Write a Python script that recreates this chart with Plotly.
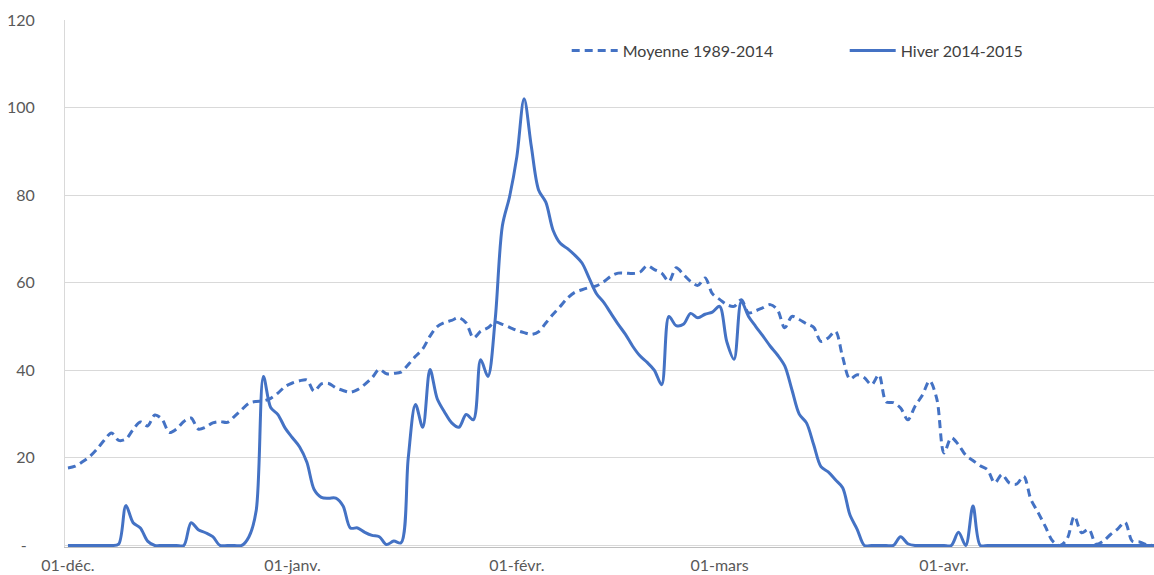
import pandas as pd
import plotly.graph_objects as go

dates = pd.date_range("2014-12-01", "2015-04-30", freq="D")

moyenne = [
    17.7, 18.1, 19.1, 20.3, 22.0, 24.0, 25.7, 24.0, 24.3, 26.5,
    28.2, 27.3, 29.8, 28.8, 25.8, 26.6, 28.3, 29.1, 26.6, 27.0,
    28.0, 28.3, 28.1, 29.5, 31.0, 32.5, 32.9, 33.0, 33.6, 34.8,
    36.3, 37.1, 37.6, 37.8, 35.2, 36.9, 37.0, 36.0, 35.4, 35.0,
    35.6, 36.8, 38.3, 40.2, 39.2, 39.3, 39.6, 41.3, 43.2, 44.9,
    47.8, 50.0, 50.9, 51.4, 52.0, 50.8, 47.4, 48.9, 49.7, 51.0,
    50.5, 49.8, 49.1, 48.6, 48.2, 48.8, 50.8, 52.8, 54.6, 56.5,
    57.8, 58.4, 58.9, 59.3, 60.2, 61.5, 62.2, 62.2, 62.1, 62.4,
    63.9, 63.0, 62.2, 60.3, 63.4, 61.9, 60.3, 59.4, 61.1, 57.5,
    56.2, 55.0, 54.6, 56.1, 53.1, 53.6, 54.3, 55.0, 53.8, 49.7,
    52.3, 51.6, 50.6, 49.8, 46.6, 47.4, 48.9, 43.0, 38.0, 39.0,
    38.3, 36.7, 39.0, 32.8, 32.6, 31.4, 28.7, 31.8, 34.3, 37.6,
    33.5, 21.1, 24.6, 23.0, 20.6, 19.4, 18.2, 17.3, 14.3, 16.2,
    14.3, 14.0, 15.8, 10.5, 7.5, 4.3, 1.0, 0.0, 1.5, 6.7,
    2.9, 3.7, 0.3, 1.0, 2.5, 3.8, 5.3, 1.0, 0.8, 0.2,
    0.0,
]

hiver = [
    0.0, 0.0, 0.0, 0.0, 0.0, 0.0, 0.0, 0.3, 9.1, 5.2,
    4.0, 1.0, 0.0, 0.0, 0.0, 0.0, 0.0, 5.2, 3.6, 2.9,
    2.0, 0.0, 0.0, 0.0, 0.0, 2.0, 8.0, 38.6, 31.5, 29.9,
    26.8, 24.6, 22.5, 19.0, 12.8, 11.0, 10.8, 10.8, 9.0, 4.0,
    4.0, 3.0, 2.3, 2.0, 0.2, 1.0, 0.6, 20.0, 32.2, 27.0,
    40.2, 33.5, 30.5, 28.0, 27.0, 29.9, 28.7, 42.4, 38.6, 51.5,
    73.0, 79.7, 88.8, 102.0, 91.1, 81.2, 78.4, 72.0, 69.0, 67.8,
    66.3, 64.5, 61.0, 57.5, 55.5, 53.0, 50.5, 48.2, 45.5, 43.3,
    41.8, 40.0, 36.7, 52.3, 50.2, 50.5, 53.0, 52.0, 52.8, 53.3,
    54.6, 46.5, 42.5, 55.7, 52.3, 50.0, 47.8, 45.5, 43.5, 41.0,
    35.5, 30.0, 28.0, 23.0, 18.0, 16.8, 15.0, 13.2, 7.0, 3.7,
    0.0, 0.0, 0.0, 0.0, 0.0, 2.0, 0.4, 0.0, 0.0, 0.0,
    0.0, 0.0, 0.0, 3.0, 0.0, 9.0, 0.0, 0.0, 0.0, 0.0,
    0.0, 0.0, 0.0, 0.0, 0.0, 0.0, 0.0, 0.0, 0.0, 0.0,
    0.0, 0.0, 0.0, 0.0, 0.0, 0.0, 0.0, 0.0, 0.0, 0.0,
    0.0,
]

x_tick_dates = ["2014-12-01", "2015-01-01", "2015-02-01", "2015-03-01", "2015-04-01"]
x_tick_labels = ["01-déc.", "01-janv.", "01-févr.", "01-mars", "01-avr."]
y_tick_vals = [0, 20, 40, 60, 80, 100, 120]
y_tick_labels = ["-\u00a0\u00a0", "20", "40", "60", "80", "100", "120"]

series_names = ["Moyenne 1989-2014", "Hiver 2014-2015"]

BLUE = "#4472C4"
FONT = "Lato, 'Open Sans', sans-serif"

fig = go.Figure()
fig.add_trace(go.Scatter(
    x=dates, y=moyenne, name=series_names[0], mode="lines",
    line=dict(color=BLUE, width=3, dash="8px,5px", shape="spline", smoothing=0.9),
))
fig.add_trace(go.Scatter(
    x=dates, y=hiver, name=series_names[1], mode="lines",
    line=dict(color=BLUE, width=3, shape="spline", smoothing=0.9),
))

fig.update_layout(
    width=1154, height=575,
    margin=dict(l=65, r=0, t=20, b=28, autoexpand=False),
    paper_bgcolor="white", plot_bgcolor="white",
    font=dict(family=FONT, size=16, color="#595959"),
    showlegend=True,
    legend=dict(
        orientation="h", x=0.4607, y=0.974, xanchor="left", yanchor="top",
        bgcolor="rgba(0,0,0,0)", itemwidth=46,
        entrywidth=217, entrywidthmode="pixels",
        font=dict(family=FONT, size=16, color="#404040"),
    ),
    xaxis=dict(
        type="date",
        range=["2014-11-30 14:10", "2015-04-30 00:00"],
        tickvals=x_tick_dates, ticktext=x_tick_labels,
        showgrid=False, zeroline=False,
        showline=True, linecolor="#BFBFBF", linewidth=1,
        ticks="", ticklabelstandoff=4,
        tickfont=dict(family=FONT, size=16, color="#595959"),
    ),
    yaxis=dict(
        range=[-0.35, 120],
        tickvals=y_tick_vals, ticktext=y_tick_labels,
        showgrid=True, gridcolor="#D9D9D9", gridwidth=1,
        zeroline=False,
        showline=True, linecolor="#D9D9D9", linewidth=1,
        ticks="", ticklabelstandoff=26,
        tickfont=dict(family=FONT, size=16, color="#595959"),
    ),
)

fig.write_html(
    "out.html",
    config={"displayModeBar": False, "staticPlot": True},
    post_script=(
        "document.body.style.margin='0';"
        "document.body.style.overflow='hidden';"
        "document.documentElement.style.overflow='hidden';"
    ),
)
